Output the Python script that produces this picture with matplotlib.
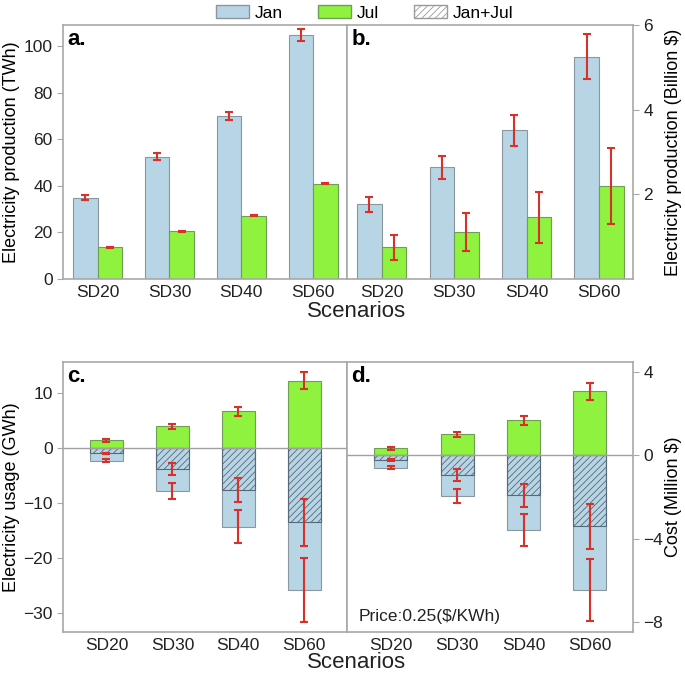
import numpy as np
import matplotlib.pyplot as plt
from matplotlib.patches import Patch

plt.rcParams['font.family'] = ['Liberation Sans', 'DejaVu Sans']
plt.rcParams['hatch.linewidth'] = 0.6

scenarios = ['SD20', 'SD30', 'SD40', 'SD60']

# a. electricity production (TWh)
prod_jan = [34.9, 52.5, 70.0, 104.8]
prod_jan_err = [1.0, 1.4, 1.8, 2.6]
prod_jul = [13.6, 20.4, 27.2, 40.9]
prod_jul_err = [0.3, 0.3, 0.3, 0.3]

# b. electricity production value (Billion $)
val_jan = [1.76, 2.64, 3.51, 5.25]
val_jan_err = [0.18, 0.27, 0.36, 0.53]
val_jul = [0.75, 1.10, 1.46, 2.19]
val_jul_err = [0.30, 0.45, 0.60, 0.90]

# c. electricity usage (GWh)
use_jul = [1.4, 4.0, 6.7, 12.3]
use_jul_err = [0.3, 0.45, 0.85, 1.6]
use_jan = [-2.25, -7.8, -14.3, -25.9]
use_jan_err = [0.3, 1.45, 2.95, 5.8]
use_net = [-0.97, -3.76, -7.7, -13.5]
use_net_err = [0.15, 1.05, 2.2, 4.25]

# d. cost (Million $)
cost_jul = [0.35, 1.01, 1.69, 3.08]
cost_jul_err = [0.08, 0.12, 0.21, 0.4]
cost_jan = [-0.58, -1.96, -3.61, -6.48]
cost_jan_err = [0.06, 0.35, 0.77, 1.48]
cost_net = [-0.21, -0.95, -1.92, -3.4]
cost_net_err = [0.04, 0.28, 0.56, 1.08]

c_jan = '#b7d5e4'
c_jul = '#8ef23f'
c_err = '#d9302a'
c_edge = '#8a979f'
c_spine = '#a8a8a8'

fig = plt.figure(figsize=(6.85, 6.73), dpi=100)
W, H = 685, 673


def add_ax(x0, y0, x1, y1):
    return fig.add_axes([x0 / W, 1 - y1 / H, (x1 - x0) / W, (y1 - y0) / H])


ax_a = add_ax(63, 25, 347, 279)
ax_b = add_ax(347, 25, 633, 279)
ax_c = add_ax(63, 362, 347, 632)
ax_d = add_ax(347, 362, 633, 632)

x = np.arange(len(scenarios))
ekw = dict(ecolor=c_err, elinewidth=1.5, capsize=2.6, capthick=1.5, fmt='none', zorder=5)


def style(ax, right=False):
    for s in ax.spines.values():
        s.set_color(c_spine)
        s.set_linewidth(1.2)
    ax.set_xticks(x)
    ax.set_xticklabels(scenarios, fontsize=12.5, color='#222222')
    ax.tick_params(axis='x', length=0, pad=4)
    ax.tick_params(axis='y', length=4, color=c_spine, labelsize=12.5, labelcolor='#222222')
    if right:
        ax.yaxis.tick_right()
        ax.yaxis.set_label_position('right')


# top: grouped bars
w = 0.34
for ax, jan, jan_e, jul, jul_e, lim, ticks in [
        (ax_a, prod_jan, prod_jan_err, prod_jul, prod_jul_err, (0, 109), [0, 20, 40, 60, 80, 100]),
        (ax_b, val_jan, val_jan_err, val_jul, val_jul_err, (0, 6.0), [2, 4, 6])]:
    ax.bar(x - w / 2, jan, w, color=c_jan, edgecolor=c_edge, linewidth=0.8)
    ax.bar(x + w / 2, jul, w, color=c_jul, edgecolor='#6f9f55', linewidth=0.8)
    ax.errorbar(x - w / 2, jan, yerr=jan_e, **ekw)
    ax.errorbar(x + w / 2, jul, yerr=jul_e, **ekw)
    ax.set_xlim(-0.48, 3.47)
    ax.set_ylim(*lim)
    ax.set_yticks(ticks)

style(ax_a)
style(ax_b, right=True)
ax_a.set_ylabel('Electricity production (TWh)', fontsize=13)
ax_b.set_ylabel('Electricity production (Billion $)', fontsize=13)
ax_a.yaxis.set_label_coords((20 - 63) / 284, 0.5)
ax_b.yaxis.set_label_coords((665 - 347) / 286, 0.5)

# bottom: stacked/overlaid bars
w2 = 0.5
for ax, jul, jul_e, jan, jan_e, net, net_e, lim, ticks in [
        (ax_c, use_jul, use_jul_err, use_jan, use_jan_err, use_net, use_net_err,
         (-33.5, 15.7), [-30, -20, -10, 0, 10]),
        (ax_d, cost_jul, cost_jul_err, cost_jan, cost_jan_err, cost_net, cost_net_err,
         (-8.5, 4.5), [-8, -4, 0, 4])]:
    ax.bar(x, jul, w2, color=c_jul, edgecolor='#6f9f55', linewidth=0.8)
    ax.bar(x, jan, w2, color=c_jan, edgecolor=c_edge, linewidth=0.8)
    ax.bar(x, net, w2, facecolor='none', edgecolor='#56697a', hatch='/////', linewidth=0.8)
    ax.axhline(0, color='#a0a0a0', linewidth=1.0, zorder=1)
    ax.errorbar(x, jul, yerr=jul_e, **ekw)
    ax.errorbar(x, jan, yerr=jan_e, **ekw)
    ax.errorbar(x, net, yerr=net_e, **ekw)
    ax.set_xlim(-0.66, 3.65)
    ax.set_ylim(*lim)
    ax.set_yticks(ticks)

style(ax_c)
style(ax_d, right=True)
ax_c.set_ylabel('Electricity usage (GWh)', fontsize=13)
ax_d.set_ylabel('Cost (Million $)', fontsize=13)
ax_c.yaxis.set_label_coords((20 - 63) / 284, 0.5)
ax_d.yaxis.set_label_coords((665 - 347) / 286, 0.5)
ax_d.text(0.04, 0.03, 'Price:0.25($/KWh)', transform=ax_d.transAxes, fontsize=12.5,
          color='#222222', ha='left', va='bottom')

for ax, lab in [(ax_a, 'a.'), (ax_b, 'b.'), (ax_c, 'c.'), (ax_d, 'd.')]:
    ax.text(0.015, 0.985, lab, transform=ax.transAxes, fontsize=16, fontweight='bold',
            ha='left', va='top')

fig.text(357 / W, 1 - 317 / H, 'Scenarios', fontsize=16, ha='center', va='baseline', color='#222222')
fig.text(357 / W, 1 - 668 / H, 'Scenarios', fontsize=16, ha='center', va='baseline', color='#222222')

handles = [Patch(facecolor=c_jan, edgecolor=c_edge, label='Jan'),
           Patch(facecolor=c_jul, edgecolor='#6f9f55', label='Jul'),
           Patch(facecolor='white', edgecolor='#9a9a9a', hatch='/////', label='Jan+Jul')]
fig.legend(handles=handles, loc='upper center', bbox_to_anchor=(365 / W, 1.016), ncol=3,
           frameon=False, fontsize=12.5, handlelength=1.9, handleheight=0.8,
           handletextpad=0.35, columnspacing=2.0)

fig.savefig('out.png', dpi=100)
